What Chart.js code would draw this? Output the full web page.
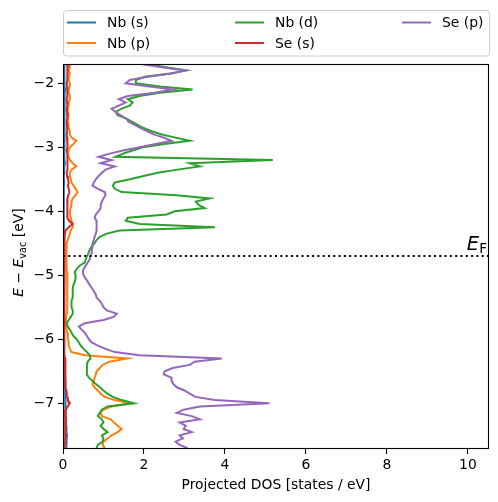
<!DOCTYPE html>
<html>
<head>
<meta charset="utf-8">
<script src="https://cdn.jsdelivr.net/npm/chart.js@4.4.1/dist/chart.umd.min.js"></script>
<style>
  html, body { margin: 0; padding: 0; background: #fff; }
  #wrap { width: 498px; height: 502px; }
</style>
</head>
<body>
<div id="wrap"><canvas id="dosChart" width="498" height="502"></canvas></div>
<script>
// energies relative to vacuum [eV]
const energy = [
  -1.70, -1.75, -1.80, -1.85, -1.90, -1.95, -2.00, -2.05, -2.10, -2.15,
  -2.20, -2.25, -2.30, -2.35, -2.40, -2.45, -2.50, -2.55, -2.60, -2.65,
  -2.70, -2.75, -2.80, -2.85, -2.90, -2.95, -3.00, -3.05, -3.10, -3.15,
  -3.20, -3.25, -3.30, -3.35, -3.40, -3.45, -3.50, -3.55, -3.60, -3.65,
  -3.70, -3.75, -3.80, -3.85, -3.90, -3.95, -4.00, -4.05, -4.10, -4.15,
  -4.20, -4.25, -4.30, -4.35, -4.40, -4.45, -4.50, -4.55, -4.60, -4.65,
  -4.70, -4.75, -4.80, -4.85, -4.90, -4.95, -5.00, -5.05, -5.10, -5.15,
  -5.20, -5.25, -5.30, -5.35, -5.40, -5.45, -5.50, -5.55, -5.60, -5.65,
  -5.70, -5.75, -5.80, -5.85, -5.90, -5.95, -6.00, -6.05, -6.10, -6.15,
  -6.20, -6.25, -6.30, -6.35, -6.40, -6.45, -6.50, -6.55, -6.60, -6.65,
  -6.70, -6.75, -6.80, -6.85, -6.90, -6.95, -7.00, -7.05, -7.10, -7.15,
  -7.20, -7.25, -7.30, -7.35, -7.40, -7.45, -7.50, -7.55, -7.60, -7.65,
  -7.70,
];

const nbS = [
  0.03, 0.04, 0.03, 0.03, 0.04, 0.03, 0.03, 0.04, 0.05, 0.04,
  0.03, 0.03, 0.04, 0.03, 0.03, 0.04, 0.03, 0.03, 0.04, 0.03,
  0.03, 0.04, 0.03, 0.03, 0.04, 0.03, 0.03, 0.03, 0.04, 0.03,
  0.04, 0.05, 0.03, 0.03, 0.03, 0.02, 0.02, 0.03, 0.02, 0.02,
  0.02, 0.02, 0.02, 0.02, 0.02, 0.02, 0.02, 0.02, 0.02, 0.02,
  0.02, 0.02, 0.02, 0.02, 0.02, 0.02, 0.02, 0.02, 0.02, 0.02,
  0.02, 0.02, 0.02, 0.02, 0.02, 0.02, 0.02, 0.02, 0.02, 0.02,
  0.02, 0.02, 0.02, 0.02, 0.02, 0.02, 0.02, 0.02, 0.02, 0.02,
  0.02, 0.02, 0.02, 0.02, 0.02, 0.02, 0.02, 0.02, 0.02, 0.02,
  0.02, 0.03, 0.03, 0.03, 0.03, 0.04, 0.04, 0.04, 0.05, 0.05,
  0.05, 0.06, 0.06, 0.07, 0.06, 0.05, 0.05, 0.06, 0.06, 0.07,
  0.07, 0.08, 0.07, 0.08, 0.08, 0.09, 0.10, 0.09, 0.08, 0.09,
  0.08,
];

const nbP = [
  0.17, 0.17, 0.14, 0.17, 0.14, 0.14, 0.17, 0.17, 0.14, 0.14,
  0.17, 0.17, 0.14, 0.14, 0.12, 0.12, 0.14, 0.12, 0.12, 0.14,
  0.14, 0.17, 0.17, 0.21, 0.33, 0.26, 0.17, 0.14, 0.12, 0.14,
  0.17, 0.24, 0.33, 0.21, 0.17, 0.17, 0.19, 0.21, 0.26, 0.31,
  0.36, 0.31, 0.24, 0.21, 0.21, 0.19, 0.17, 0.17, 0.19, 0.21,
  0.24, 0.24, 0.19, 0.17, 0.14, 0.12, 0.09, 0.09, 0.09, 0.09,
  0.09, 0.09, 0.09, 0.09, 0.09, 0.10, 0.11, 0.11, 0.10, 0.11,
  0.11, 0.10, 0.11, 0.11, 0.10, 0.11, 0.11, 0.10, 0.09, 0.08,
  0.07, 0.07, 0.08, 0.09, 0.11, 0.12, 0.12, 0.14, 0.14, 0.17,
  0.21, 0.54, 1.58, 1.15, 0.98, 0.91, 0.83, 0.81, 0.78, 0.76,
  0.73, 0.78, 0.86, 0.93, 1.03, 1.28, 1.67, 1.20, 0.98, 0.93,
  0.96, 1.18, 1.26, 1.35, 1.45, 1.35, 1.20, 1.10, 1.00, 0.98,
  1.03,
];

const nbD = [
  2.09, 2.54, 3.05, 2.64, 2.02, 1.80, 1.80, 2.39, 3.20, 2.39,
  1.89, 1.60, 1.72, 1.65, 1.43, 1.30, 1.35, 1.55, 1.70, 1.84,
  1.99, 2.19, 2.44, 2.78, 3.13, 2.51, 1.97, 1.72, 1.48, 1.30,
  5.18, 3.13, 3.38, 2.83, 2.34, 1.99, 1.65, 1.28, 1.23, 1.28,
  1.45, 2.81, 3.62, 3.28, 3.35, 3.50, 2.76, 2.56, 1.60, 1.55,
  1.90, 3.75, 1.40, 1.08, 0.91, 0.83, 0.78, 0.71, 0.66, 0.63,
  0.59, 0.56, 0.54, 0.41, 0.34, 0.29, 0.31, 0.31, 0.29, 0.26,
  0.24, 0.24, 0.24, 0.24, 0.21, 0.21, 0.21, 0.24, 0.24, 0.19,
  0.14, 0.09, 0.12, 0.17, 0.21, 0.26, 0.34, 0.39, 0.44, 0.51,
  0.59, 0.66, 0.68, 0.61, 0.59, 0.59, 0.59, 0.59, 0.64, 0.73,
  0.81, 0.91, 1.00, 1.10, 1.23, 1.45, 1.75, 1.10, 0.96, 0.91,
  0.86, 0.96, 1.00, 0.93, 1.00, 1.10, 0.96, 1.00, 0.98, 0.86,
  0.83,
];

const seS = [
  0.12, 0.11, 0.10, 0.11, 0.12, 0.10, 0.09, 0.10, 0.11, 0.12,
  0.10, 0.09, 0.10, 0.11, 0.09, 0.10, 0.12, 0.10, 0.09, 0.10,
  0.11, 0.10, 0.09, 0.10, 0.11, 0.12, 0.10, 0.09, 0.11, 0.12,
  0.10, 0.11, 0.12, 0.10, 0.09, 0.10, 0.12, 0.14, 0.12, 0.14,
  0.16, 0.13, 0.11, 0.10, 0.10, 0.12, 0.11, 0.10, 0.11, 0.15,
  0.24, 0.14, 0.06, 0.05, 0.04, 0.04, 0.04, 0.04, 0.04, 0.04,
  0.04, 0.04, 0.04, 0.04, 0.03, 0.03, 0.03, 0.03, 0.03, 0.03,
  0.03, 0.03, 0.03, 0.03, 0.03, 0.03, 0.03, 0.03, 0.03, 0.03,
  0.03, 0.03, 0.03, 0.03, 0.03, 0.03, 0.03, 0.03, 0.03, 0.04,
  0.04, 0.04, 0.05, 0.05, 0.05, 0.05, 0.06, 0.06, 0.06, 0.06,
  0.07, 0.07, 0.08, 0.09, 0.10, 0.12, 0.17, 0.11, 0.07, 0.06,
  0.06, 0.05, 0.05, 0.05, 0.06, 0.05, 0.05, 0.05, 0.05, 0.04,
  0.04,
];

const seP = [
  1.92, 2.44, 3.03, 2.68, 2.09, 1.65, 1.55, 2.14, 2.71, 2.26,
  1.60, 1.38, 1.55, 1.38, 1.20, 1.30, 1.42, 1.55, 1.62, 1.77,
  1.92, 2.07, 2.24, 2.49, 2.68, 2.29, 1.89, 1.48, 1.15, 0.88,
  1.20, 0.93, 1.28, 1.05, 0.96, 0.88, 0.81, 0.76, 0.73, 0.86,
  1.03, 1.05, 1.00, 0.96, 0.93, 0.93, 0.88, 0.81, 0.78, 0.83,
  0.83, 0.83, 0.83, 0.81, 0.78, 0.76, 0.73, 0.73, 0.71, 0.71,
  0.68, 0.66, 0.61, 0.56, 0.51, 0.49, 0.51, 0.56, 0.61, 0.66,
  0.71, 0.76, 0.81, 0.83, 0.91, 0.96, 1.00, 1.08, 1.33, 1.25,
  1.00, 0.54, 0.39, 0.46, 0.54, 0.59, 0.64, 0.71, 0.86, 1.05,
  1.28, 1.89, 3.92, 3.25, 3.13, 2.71, 2.51, 2.49, 2.68, 2.68,
  2.73, 2.81, 3.00, 3.13, 3.27, 3.75, 5.10, 3.38, 2.98, 2.81,
  3.18, 3.38, 2.88, 3.03, 2.98, 3.18, 2.88, 2.96, 2.78, 2.88,
  3.08,
];

const seriesLabels = ["Nb (s)", "Nb (p)", "Nb (d)", "Se (s)", "Se (p)"];
const seriesValues = [nbS, nbP, nbD, seS, seP];
const seriesColors = ["#1f77b4", "#ff7f0e", "#2ca02c", "#d62728", "#9467bd"];

const fermiLevel = -4.70;
const xRange = [0, 10.52];
const yRange = [-7.714, -1.70];
const xTicks = [0, 2, 4, 6, 8, 10];
const yTicks = [-7, -6, -5, -4, -3, -2];

const FONT = '"DejaVu Sans", "Liberation Sans", sans-serif';
const minus = (v) => (v < 0 ? "\u2212" + Math.abs(v) : String(v));

const datasets = seriesValues.map((vals, i) => ({
  label: seriesLabels[i],
  data: energy.map((e, k) => ({ x: vals[k], y: e })),
  borderColor: seriesColors[i],
  borderWidth: 2,
  order: 6 - i,
}));

datasets.push({
  label: "EF",
  data: [
    { x: xRange[0], y: fermiLevel },
    { x: xRange[1], y: fermiLevel },
  ],
  borderColor: "#000",
  borderWidth: 2,
  borderDash: [2, 3.3],
  order: 0,
});

const decorations = {
  id: "decorations",
  afterDraw(chart) {
    const ctx = chart.ctx;
    const area = chart.chartArea;
    const xs = chart.scales.x;
    const ys = chart.scales.y;
    ctx.save();

    // axes frame
    ctx.strokeStyle = "#000";
    ctx.lineWidth = 1.1;
    ctx.strokeRect(area.left + 0.5, area.top + 0.5, area.right - area.left - 1, area.bottom - area.top - 1);

    // legend box
    ctx.fillStyle = "rgba(255,255,255,0.8)";
    ctx.strokeStyle = "#cccccc";
    ctx.lineWidth = 1;
    ctx.beginPath();
    ctx.roundRect(63.5, 10.5, 426, 45.5, 3);
    ctx.fill();
    ctx.stroke();

    const cols = [67, 235, 402];
    const rows = [22.5, 43];
    ctx.font = "13.9px " + FONT;
    ctx.textBaseline = "middle";
    ctx.textAlign = "left";
    seriesLabels.forEach((label, i) => {
      const cx = cols[Math.floor(i / 2)];
      const cy = rows[i % 2];
      ctx.strokeStyle = seriesColors[i];
      ctx.lineWidth = 2;
      ctx.beginPath();
      ctx.moveTo(cx, cy);
      ctx.lineTo(cx + 29, cy);
      ctx.stroke();
      ctx.fillStyle = "#000";
      ctx.fillText(label, cx + 40, cy + 1);
    });

    // x axis title
    ctx.fillStyle = "#000";
    ctx.textAlign = "center";
    ctx.textBaseline = "alphabetic";
    ctx.font = "13.9px " + FONT;
    ctx.fillText("Projected DOS [states / eV]", (area.left + area.right) / 2, 489);

    // y axis title: E - E_vac [eV]
    const parts = [
      { t: "E", f: "italic 13.9px " + FONT, dy: 0 },
      { t: " \u2212 ", f: "13.9px " + FONT, dy: 0 },
      { t: "E", f: "italic 13.9px " + FONT, dy: 0 },
      { t: "vac", f: "9.7px " + FONT, dy: 2.5 },
      { t: " [eV]", f: "13.9px " + FONT, dy: 0 },
    ];
    let total = 0;
    parts.forEach((p) => {
      ctx.font = p.f;
      p.w = ctx.measureText(p.t).width;
      total += p.w;
    });
    ctx.translate(23, (area.top + area.bottom) / 2 - 4);
    ctx.rotate(-Math.PI / 2);
    ctx.textAlign = "left";
    let px = -total / 2;
    parts.forEach((p) => {
      ctx.font = p.f;
      ctx.fillText(p.t, px, p.dy);
      px += p.w;
    });
    ctx.setTransform(1, 0, 0, 1, 0, 0);

    // Fermi level label
    const fy = ys.getPixelForValue(fermiLevel);
    ctx.font = "italic 19.5px " + FONT;
    const wE = ctx.measureText("E").width;
    ctx.font = "13.6px " + FONT;
    const wF = ctx.measureText("F").width;
    const right = xs.getPixelForValue(xRange[1]) - 2;
    ctx.textAlign = "left";
    ctx.font = "italic 19.5px " + FONT;
    ctx.fillText("E", right - wF - wE, fy - 6);
    ctx.font = "13.6px " + FONT;
    ctx.fillText("F", right - wF, fy - 3);

    ctx.restore();
  },
};

document.addEventListener("DOMContentLoaded", () => {
  const ctx = document.getElementById("dosChart").getContext("2d");
  new Chart(ctx, {
    type: "scatter",
    data: { datasets },
    options: {
      responsive: false,
      animation: false,
      devicePixelRatio: 1,
      showLine: true,
      elements: {
        point: { radius: 0, hoverRadius: 0 },
        line: { tension: 0, fill: false },
      },
      layout: { padding: { top: 64, right: 9, left: 0, bottom: 0 } },
      plugins: {
        legend: { display: false },
        tooltip: { enabled: false },
      },
      scales: {
        x: {
          type: "linear",
          min: xRange[0],
          max: xRange[1],
          afterFit: (scale) => {
            scale.height = 53;
            scale.paddingRight = 0;
            scale.paddingLeft = 0;
          },
          afterBuildTicks: (scale) => {
            scale.ticks = xTicks.map((v) => ({ value: v }));
          },
          ticks: {
            color: "#000",
            font: { family: FONT, size: 13.9 },
            padding: 3,
            maxRotation: 0,
            callback: (v) => minus(v),
          },
          grid: {
            drawOnChartArea: false,
            drawTicks: true,
            tickLength: 5,
            tickColor: "#000",
            tickWidth: 1.1,
          },
          border: { display: false },
        },
        y: {
          type: "linear",
          min: yRange[0],
          max: yRange[1],
          afterFit: (scale) => {
            scale.width = 63;
            scale.paddingTop = 0;
            scale.paddingBottom = 0;
          },
          afterBuildTicks: (scale) => {
            scale.ticks = yTicks.map((v) => ({ value: v }));
          },
          ticks: {
            color: "#000",
            font: { family: FONT, size: 13.9 },
            padding: 4,
            callback: (v) => minus(v),
          },
          grid: {
            drawOnChartArea: false,
            drawTicks: true,
            tickLength: 5,
            tickColor: "#000",
            tickWidth: 1.1,
          },
          border: { display: false },
        },
      },
    },
    plugins: [decorations],
  });
});
</script>
</body>
</html>
